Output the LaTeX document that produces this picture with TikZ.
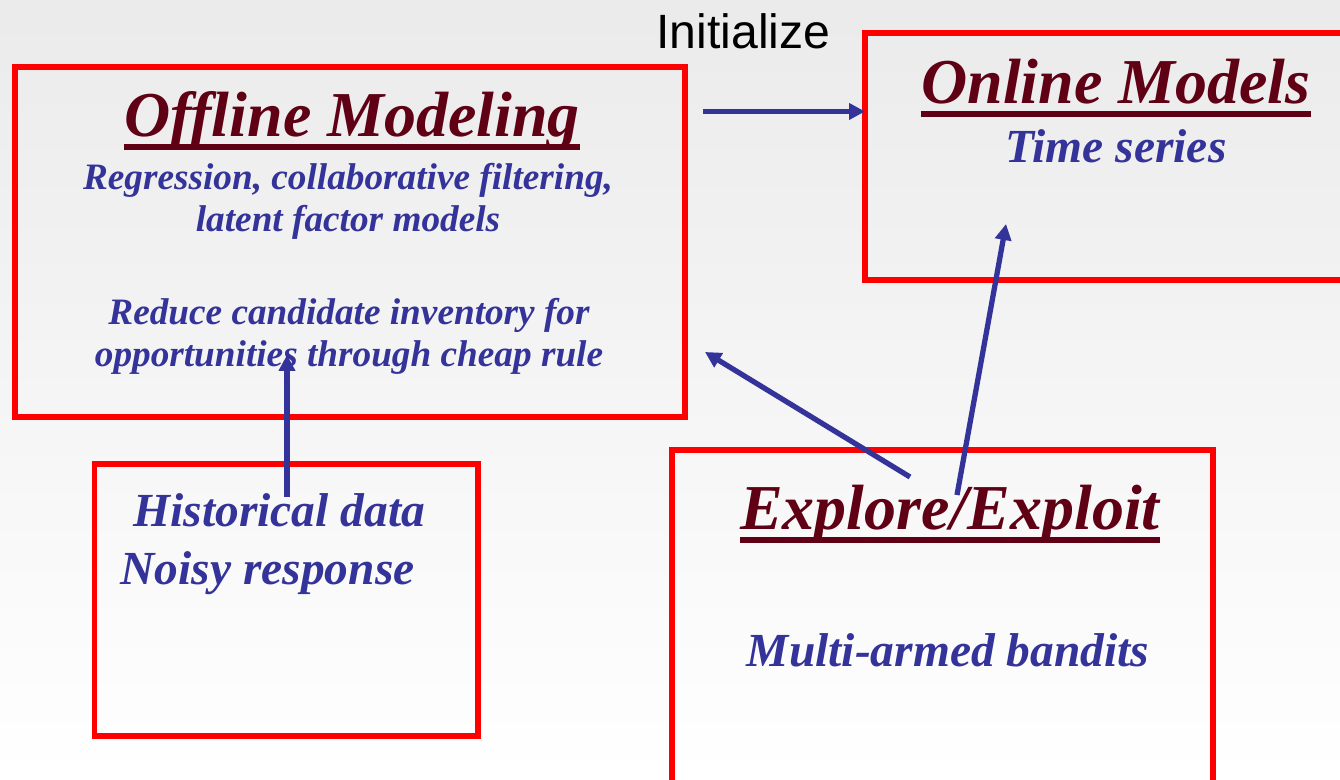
\documentclass[tikz,border=0pt]{standalone}
\usepackage{fontspec}
\setmainfont{Liberation Serif}
\newfontfamily\arialfont{Liberation Sans}
\usetikzlibrary{arrows.meta}
\definecolor{boxred}{RGB}{255,0,0}
\definecolor{textblue}{RGB}{51,51,153}
\definecolor{titlered}{RGB}{96,0,20}
\tikzset{
redbox/.style={draw=boxred,line width=1.6pt,inner sep=0,outer sep=0},
title/.style={font=\fontsize{18.2}{22}\selectfont\bfseries\itshape,text=titlered,inner sep=0,anchor=base},
body/.style={font=\fontsize{13.5}{16}\selectfont\bfseries\itshape,text=textblue,inner sep=0,anchor=base},
smallbody/.style={body,font=\fontsize{10.6}{13}\selectfont\bfseries\itshape},
uline/.style={draw=titlered,line width=1.7pt},
link/.style={draw=textblue,line width=1.5pt,-{Triangle[length=0.16cm,width=0.16cm]}}
}
\begin{document}
\begin{tikzpicture}
%picture
\clip (0,0) rectangle (13.4,7.8);
\shade[top color=black!8,bottom color=white] (0,0) rectangle (13.4,7.8);
\node[redbox,minimum width=6.70cm,minimum height=3.50cm] (offline) at (3.50,5.38) {};
\node[redbox,minimum width=4.95cm,minimum height=2.47cm] (online) at (11.125,6.235) {};
\node[redbox,minimum width=3.835cm,minimum height=2.715cm] (hist) at (2.8625,1.80) {};
\node[redbox,minimum width=5.41cm,minimum height=3.50cm] (explore) at (9.425,1.55) {};
%titles
\node[title] (offtitle) at (3.52,6.43) {Offline Modeling};
\draw[uline] ([yshift=-0.10cm]offtitle.base west) -- ([yshift=-0.10cm]offtitle.base east);
\node[title] (ontitle) at (11.16,6.76) {Online Models};
\draw[uline] ([yshift=-0.10cm]ontitle.base west) -- ([yshift=-0.10cm]ontitle.base east);
\node[title] (exptitle) at (9.50,2.50) {Explore/Exploit};
\draw[uline] ([yshift=-0.10cm]exptitle.base west) -- ([yshift=-0.10cm]exptitle.base east);
%texts
\node[smallbody] (regline) at (3.48,5.90) {Regression, collaborative filtering,};
\node[smallbody] (latline) at (3.48,5.48) {latent factor models};
\node[smallbody] (redline) at (3.49,4.55) {Reduce candidate inventory for};
\node[smallbody] (oppline) at (3.49,4.13) {opportunities through cheap rule};
\node[body] (timeline) at (11.16,6.17) {Time series};
\node[body] (banditline) at (9.48,1.13) {Multi-armed bandits};
\node[body,anchor=base west] (histline) at (1.33,2.53) {Historical data};
\node[body,anchor=base west] (noisyline) at (1.20,1.95) {Noisy response};
\node[font=\arialfont\fontsize{13.7}{16}\selectfont,inner sep=0,anchor=base] (initlabel) at (7.435,7.31) {Initialize};
%arrows
\coordinate (initfrom) at (7.03,6.685);
\coordinate (histfrom) at (2.87,2.83);
\coordinate (offlinein) at (2.87,4.25);
\coordinate (expleft) at (9.10,3.03);
\coordinate (offlineside) at (7.05,4.28);
\coordinate (expright) at (9.57,2.85);
\coordinate (onlinein) at (10.06,5.56);
\draw[link] (initfrom) -- (online.west |- initfrom);
\draw[link] (histfrom) -- (offlinein);
\draw[link] (expleft) -- (offlineside);
\draw[link] (expright) -- (onlinein);
\end{tikzpicture}
\end{document}
